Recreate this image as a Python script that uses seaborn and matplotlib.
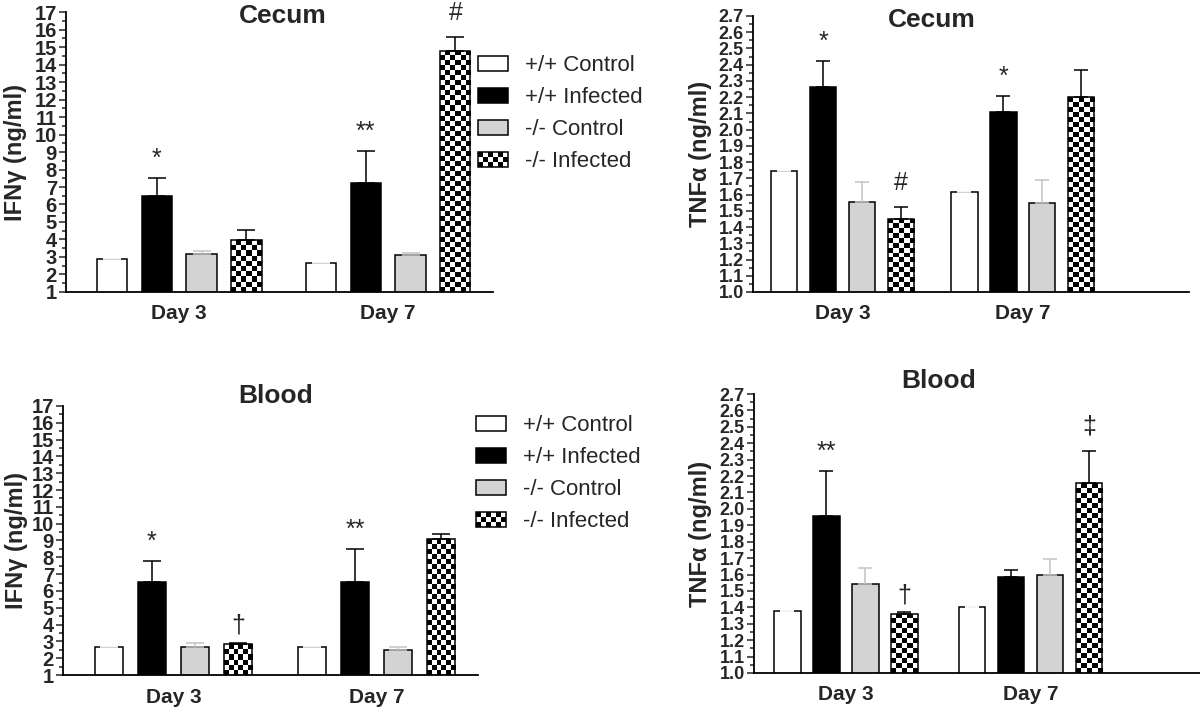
import numpy as np
import pandas as pd
import matplotlib
matplotlib.use("Agg")
import matplotlib.pyplot as plt
import seaborn as sns
from matplotlib.legend_handler import HandlerBase
from matplotlib.patches import Rectangle, Patch
from matplotlib.ticker import MultipleLocator

# ---------------- data ----------------
days = ["Day 3", "Day 7"]
groups = ["+/+ Control", "+/+ Infected", "-/- Control", "-/- Infected"]

# rows: Day 3, Day 7 ; columns: groups
ifn_cecum_mean = [[2.90, 6.50, 3.15, 3.95], [2.65, 7.25, 3.10, 14.80]]
ifn_cecum_err = [[0.05, 1.03, 0.17, 0.58], [0.05, 1.82, 0.10, 0.80]]
ifn_cecum_marks = [("Day 3", "+/+ Infected", "*"), ("Day 7", "+/+ Infected", "**"),
                   ("Day 7", "-/- Infected", "#")]

tnf_cecum_mean = [[1.745, 2.265, 1.555, 1.450], [1.615, 2.110, 1.550, 2.200]]
tnf_cecum_err = [[0.005, 0.160, 0.125, 0.075], [0.005, 0.100, 0.140, 0.170]]
tnf_cecum_marks = [("Day 3", "+/+ Infected", "*"), ("Day 3", "-/- Infected", "#"),
                   ("Day 7", "+/+ Infected", "*")]

ifn_blood_mean = [[2.68, 6.52, 2.64, 2.82], [2.68, 6.56, 2.50, 9.06]]
ifn_blood_err = [[0.03, 1.27, 0.24, 0.10], [0.03, 1.93, 0.14, 0.34]]
ifn_blood_marks = [("Day 3", "+/+ Infected", "*"), ("Day 3", "-/- Infected", "\u2020"),
                   ("Day 7", "+/+ Infected", "**")]

tnf_blood_mean = [[1.375, 1.955, 1.545, 1.360], [1.400, 1.585, 1.595, 2.155]]
tnf_blood_err = [[0.005, 0.275, 0.097, 0.010], [0.005, 0.045, 0.100, 0.195]]
tnf_blood_marks = [("Day 3", "+/+ Infected", "**"), ("Day 3", "-/- Infected", "\u2020"),
                   ("Day 7", "-/- Infected", "\u2021")]

ifn_ticks = [1, 2, 3, 4, 5, 6, 7, 8, 9, 10, 11, 12, 13, 14, 15, 16, 17]
ifn_tick_labels = [str(t) for t in ifn_ticks]
tnf_ticks = [1.0, 1.1, 1.2, 1.3, 1.4, 1.5, 1.6, 1.7, 1.8, 1.9, 2.0,
             2.1, 2.2, 2.3, 2.4, 2.5, 2.6, 2.7]
tnf_tick_labels = ["1.0", "1.1", "1.2", "1.3", "1.4", "1.5", "1.6", "1.7", "1.8", "1.9",
                   "2.0", "2.1", "2.2", "2.3", "2.4", "2.5", "2.6", "2.7"]

# ---------------- style ----------------
sns.set_style("ticks")
plt.rcParams["font.family"] = ["Liberation Sans", "DejaVu Sans"]

fills = ["white", "black", "#d3d3d3", "white"]
err_colors = ["white", "black", "#c4c4c4", "black"]
mark_offsets_px = {"*": 12, "**": 12, "#": 17, "\u2020": 10, "\u2021": 18}
EDGE_LW = 1.1

fig = plt.figure(figsize=(12, 7.07), dpi=100)


def add_checker(ax, patch, cell_px=5.0):
    x0, y0 = patch.get_x(), patch.get_y()
    w, h = patch.get_width(), patch.get_height()
    ylo = max(y0, ax.get_ylim()[0])
    yhi = y0 + h
    p0 = ax.transData.transform((x0, ylo))
    p1 = ax.transData.transform((x0 + w, yhi))
    nc = max(1, int(round((p1[0] - p0[0]) / cell_px)))
    nr = max(1, int(round((p1[1] - p0[1]) / cell_px)))
    arr = (np.add.outer(np.arange(nr), np.arange(nc)) % 2).astype(float)
    im = ax.imshow(arr, extent=(x0, x0 + w, ylo, yhi), origin="lower", cmap="gray",
                   vmin=0, vmax=1, interpolation="nearest", aspect="auto",
                   zorder=patch.get_zorder() - 0.01)
    im.set_clip_path(patch)
    patch.set_facecolor("none")


def draw_panel(rect, means, errs, marks, ticks, tick_labels, minor, ylabel, title,
               xlim, title_xy, label_x, capsize, width, tick_fs):
    ax = fig.add_axes(rect)
    rows = []
    for di, d in enumerate(days):
        for gi, g in enumerate(groups):
            rows.append((d, g, means[di][gi], errs[di][gi]))
    df = pd.DataFrame(rows, columns=["Day", "Group", "Value", "Err"])
    sns.barplot(data=df, x="Day", y="Value", hue="Group", order=days, hue_order=groups,
                palette=dict(zip(groups, fills)), saturation=1, width=width, gap=0.33,
                edgecolor="black", linewidth=EDGE_LW, errorbar=None, legend=False, ax=ax)
    ax.set_xlim(*xlim)
    ax.set_ylim(ticks[0], ticks[-1])
    bars = sorted(ax.patches, key=lambda p: p.get_x())
    centers = {}
    for k, p in enumerate(bars):
        di, gi = divmod(k, len(groups))
        cx = p.get_x() + p.get_width() / 2
        top = means[di][gi]
        centers[(days[di], groups[gi])] = (cx, top + errs[di][gi])
        ax.errorbar([cx], [top], yerr=[[0], [errs[di][gi]]], fmt="none",
                    ecolor=err_colors[gi], elinewidth=EDGE_LW, capsize=capsize,
                    capthick=EDGE_LW, zorder=3)
        if gi == 3:
            add_checker(ax, p)
    for d, g, sym in marks:
        cx, ytop = centers[(d, g)]
        ax.annotate(sym, (cx, ytop), xytext=(0, mark_offsets_px[sym] / 1.389),
                    textcoords="offset points", ha="center", va="baseline", fontsize=18)
    ax.set_xlim(*xlim)
    ax.set_ylim(ticks[0], ticks[-1])
    ax.set_yticks(ticks, tick_labels, fontweight="bold", fontsize=tick_fs)
    ax.yaxis.set_minor_locator(MultipleLocator(minor))
    ax.tick_params(axis="y", which="major", length=5, width=1.1, pad=1.5, direction="out")
    ax.tick_params(axis="y", which="minor", length=3, width=1.1, direction="out")
    ax.tick_params(axis="x", length=0, pad=9)
    for lab in ax.get_xticklabels():
        lab.set_fontweight("bold")
        lab.set_fontsize(15)
    ax.set_xlabel("")
    ax.set_ylabel(ylabel, fontsize=17, fontweight="bold")
    ax.yaxis.set_label_coords(label_x, 0.5)
    ax.set_title(title, x=title_xy[0], y=title_xy[1], pad=0, fontsize=19,
                 fontweight="bold")
    sns.despine(ax=ax)
    for s in ("left", "bottom"):
        ax.spines[s].set_linewidth(1.3)
        ax.spines[s].set_color("black")
    return ax


draw_panel([0.055, 0.5870, 0.3558, 0.3960], ifn_cecum_mean, ifn_cecum_err, ifn_cecum_marks,
           ifn_ticks, ifn_tick_labels, 0.5, "IFN\u03b3 (ng/ml)", "Cecum",
           (-0.541, 1.502), (0.508, 0.961), -0.091, 6.5, 0.86, 14.5)
draw_panel([0.6275, 0.5870, 0.3633, 0.3904], tnf_cecum_mean, tnf_cecum_err, tnf_cecum_marks,
           tnf_ticks, tnf_tick_labels, 0.05, "TNF\u03b1 (ng/ml)", "Cecum",
           (-0.496, 1.92), (0.411, 0.960), -0.094, 5, 0.864, 13)
draw_panel([0.0525, 0.04526, 0.3458, 0.3805], ifn_blood_mean, ifn_blood_err, ifn_blood_marks,
           ifn_ticks, ifn_tick_labels, 0.5, "IFN\u03b3 (ng/ml)", "Blood",
           (-0.544, 1.50), (0.513, 1.011), -0.084, 6.5, 0.847, 14.5)
draw_panel([0.6283, 0.0481, 0.3717, 0.3946], tnf_blood_mean, tnf_blood_err, tnf_blood_marks,
           tnf_ticks, tnf_tick_labels, 0.05, "TNF\u03b1 (ng/ml)", "Blood",
           (-0.499, 1.92), (0.413, 1.0215), -0.094, 5, 0.846, 13)


# ---------------- legends ----------------
class CheckerHandler(HandlerBase):
    def create_artists(self, legend, orig_handle, xdescent, ydescent, width, height,
                       fontsize, trans):
        nx, ny = 6, 3
        cw, ch = width / nx, height / ny
        arts = []
        for i in range(nx):
            for j in range(ny):
                if (i + j) % 2 == 0:
                    arts.append(Rectangle((-xdescent + i * cw, -ydescent + j * ch), cw, ch,
                                          facecolor="black", edgecolor="none",
                                          transform=trans))
        arts.append(Rectangle((-xdescent, -ydescent), width, height, facecolor="none",
                              edgecolor="black", lw=EDGE_LW, transform=trans))
        return arts


def make_handles():
    hs = [Patch(facecolor=fills[i], edgecolor="black", lw=EDGE_LW) for i in range(3)]
    chk = Patch(facecolor="white", edgecolor="black", lw=EDGE_LW)
    hs.append(chk)
    return hs, {chk: CheckerHandler()}


for anchor in [(478 / 1200, 1 - 55 / 707), (476 / 1200, 1 - 415 / 707)]:
    hs, hmap = make_handles()
    fig.legend(hs, groups, handler_map=hmap, loc="upper left", bbox_to_anchor=anchor,
               frameon=False, fontsize=16, handlelength=1.35, handleheight=0.68,
               labelspacing=0.5, handletextpad=0.75, borderpad=0, borderaxespad=0)

fig.savefig("out.png", dpi=100)
